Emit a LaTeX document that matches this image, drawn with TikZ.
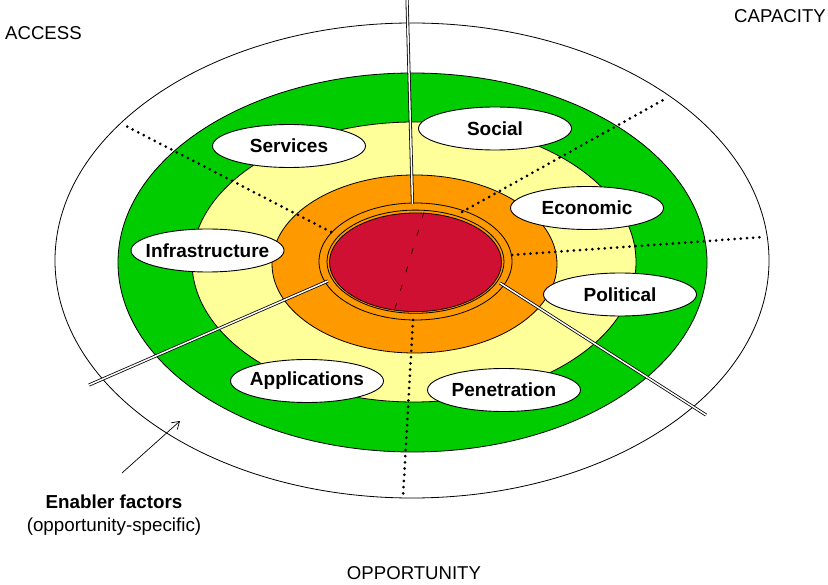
\documentclass[tikz,border=0pt]{standalone}
\usepackage{fontspec}
\setmainfont{Liberation Sans}
\usetikzlibrary{shapes.geometric,arrows.meta}
\definecolor{ringgreen}{RGB}{0,204,0}
\definecolor{ringyellow}{RGB}{255,255,153}
\definecolor{ringorange}{RGB}{255,153,0}
\definecolor{corered}{RGB}{208,16,50}
\newcommand{\lblbox}[1]{\makebox[0pt]{#1}}
\begin{document}
\begin{tikzpicture}[x=1pt,y=-1pt,
  ring/.style={draw=black, line width=0.8pt},
  lab/.style={ellipse, draw, line width=0.9pt, fill=white, minimum width=153pt, minimum height=43pt, inner sep=0pt, font=\bfseries\fontsize{19}{21}\selectfont},
  dotline/.style={line width=3pt, dash pattern=on 0pt off 6.2pt, line cap=round},
  dbl/.style={draw=black, double=white, double distance=1.5pt, line width=0.8pt},
  corner/.style={font=\fontsize{18.6}{20}\selectfont, inner sep=0pt},
  note/.style={font=\fontsize{18.8}{20}\selectfont, inner sep=0pt, align=center}
]
\useasboundingbox (0,0) rectangle (828,585);

% rings
\draw[ring, fill=white] (412,260.5) ellipse [x radius=357pt, y radius=237.5pt];
\draw[ring, fill=ringgreen] (412.5,262.5) ellipse [x radius=294.5pt, y radius=189.5pt];
\draw[ring, fill=ringyellow] (414,262) ellipse [x radius=222pt, y radius=140pt];
\draw[ring, fill=ringorange] (414.5,264) ellipse [x radius=142.5pt, y radius=89pt];
\draw[ring, fill=ringorange] (415.5,261.5) ellipse [x radius=96.5pt, y radius=58.5pt];
\draw[ring] (415.5,261.7) ellipse [x radius=88.5pt, y radius=51.6pt];
\draw[ring, fill=corered] (415.5,262.3) ellipse [x radius=86pt, y radius=49.3pt];

% dashed line in the core
\coordinate (dA) at (424,212);
\coordinate (dB) at (394,312);
\draw[line width=0.6pt, dash pattern=on 6pt off 13pt] (dA) -- (dB);

% dotted radial lines
\coordinate (ulA) at (331,232);  \coordinate (ulB) at (122,124);
\coordinate (urA) at (462,212);  \coordinate (urB) at (665,99);
\coordinate (rA)  at (512,255);  \coordinate (rB)  at (764,237);
\coordinate (bA)  at (413,320);  \coordinate (bB)  at (403,497);
\draw[dotline] (ulA) -- (ulB);
\draw[dotline] (urA) -- (urB);
\draw[dotline] (rA) -- (rB);
\draw[dotline] (bA) -- (bB);

% double radial lines
\coordinate (tA) at (412.5,204); \coordinate (tB) at (407,-2);
\coordinate (lA) at (328,281);   \coordinate (lB) at (89,385);
\coordinate (gA) at (500,283);   \coordinate (gB) at (706,415);
\draw[dbl] (tA) -- (tB);
\draw[dbl] (lA) -- (lB);
\draw[dbl] (gA) -- (gB);

% labels
\node[lab] (services) at (289,146) {\lblbox{Services}};
\node[lab] (social) at (495,128.5) {\lblbox{Social}};
\node[lab] (economic) at (587,208) {\lblbox{Economic}};
\node[lab] (infra) at (207.5,250.5) {\lblbox{Infrastructure}};
\node[lab] (political) at (620,294.5) {\lblbox{Political}};
\node[lab] (applications) at (307,381) {\lblbox{Applications}};
\node[lab] (penetration) at (504,390) {\lblbox{Penetration}};

% corner texts
\node[corner, anchor=west] (access) at (5,33) {ACCESS};
\node[corner, anchor=east] (capacity) at (826,16) {CAPACITY};
\node[corner] (opportunity) at (414,573) {OPPORTUNITY};

% enabler note
\node[note] (enabler) at (114,502) {\bfseries Enabler factors};
\node[note] (enablersub) at (114,527) {(opportunity-specific)};
\coordinate (arrS) at (122,473);
\coordinate (arrE) at (180,421);
\draw[line width=0.7pt, -{Straight Barb[length=7pt,width=9pt]}] (arrS) -- (arrE);
\end{tikzpicture}
\end{document}
